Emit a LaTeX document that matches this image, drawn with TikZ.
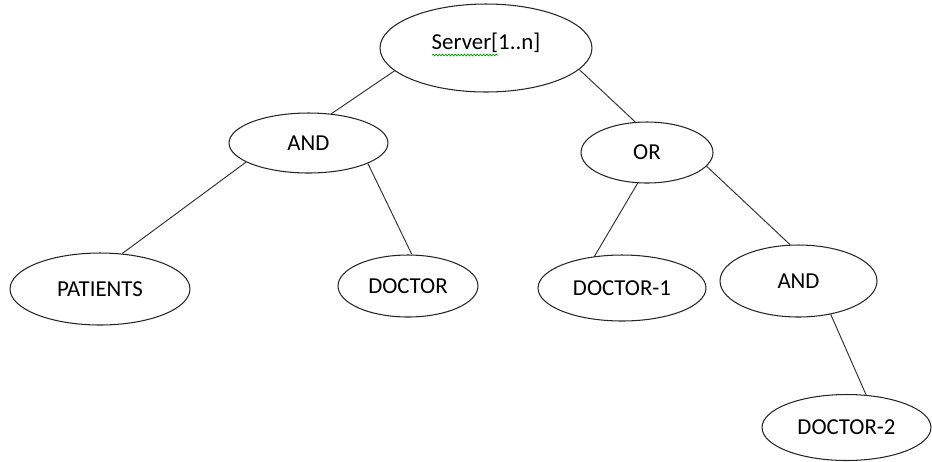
\documentclass[tikz,border=0pt]{standalone}
\usepackage{fontspec}
\setmainfont{Carlito}
\usetikzlibrary{shapes.geometric,decorations.pathmorphing}
\begin{document}
\begin{tikzpicture}[x=0.02cm,y=-0.02cm,
  oval/.style={draw=black!85,line width=0.6pt,ellipse,inner sep=0pt,font=\fontsize{13}{15}\selectfont},
  edge/.style={draw=black!80,line width=0.55pt},
  lbl/.style={inner sep=0pt,font=\fontsize{13}{15}\selectfont}]
\useasboundingbox (0,0) rectangle (932,461);
\node[oval,minimum width=4.24cm,minimum height=1.76cm] (srv) at (486,48) {};
\node[lbl] (srvt) at (486,43) {Server[1..n]};
\node[oval,minimum width=3.18cm,minimum height=1.2cm] (and1) at (308.5,143) {AND};
\node[oval,minimum width=3.6cm,minimum height=1.44cm] (pat) at (100,289) {PATIENTS};
\node[oval,minimum width=2.8cm,minimum height=1.24cm] (doc) at (408,286) {DOCTOR};
\node[oval,minimum width=2.64cm,minimum height=1.22cm] (or) at (647,152.5) {OR};
\node[oval,minimum width=3.36cm,minimum height=1.32cm] (doc1) at (622,288) {DOCTOR-1};
\node[oval,minimum width=3.14cm,minimum height=1.44cm] (and2) at (798.5,281) {AND};
\node[oval,minimum width=3.38cm,minimum height=1.32cm] (doc2) at (846.5,427.5) {DOCTOR-2};
\coordinate (sqa) at (432,55);
\coordinate (sqb) at (498,55);
\draw[green!60!black,line width=0.4pt,decorate,decoration={snake,amplitude=0.5pt,segment length=1.8pt}] (sqa) -- (sqb);
\draw[edge] (srv.194) -- (and1.52);
\draw[edge] (srv.347) -- (or.111);
\draw[edge] (and1.197) -- (pat.58);
\draw[edge] (and1.341) -- (doc.83);
\draw[edge] (or.253) -- (doc1.131);
\draw[edge] (or.347) -- (and2.103);
\draw[edge] (and2.314) -- (doc2.59);
\end{tikzpicture}
\end{document}
